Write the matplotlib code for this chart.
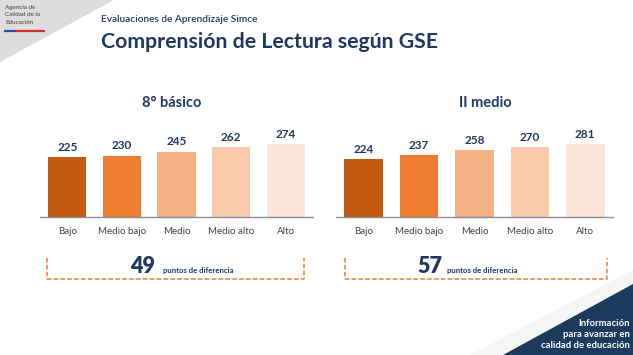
import matplotlib
matplotlib.use('Agg')
import matplotlib.pyplot as plt
from matplotlib.patches import Polygon

# Data
categorias = ['Bajo', 'Medio bajo', 'Medio', 'Medio alto', 'Alto']
puntajes_8b = [225, 230, 245, 262, 274]
puntajes_2m = [224, 237, 258, 270, 281]
niveles = ['8° básico', 'II medio']
colores = ['#C55A11', '#ED7D31', '#F4B183', '#F8CBAD', '#FBE5D6']

NAVY = '#1F3864'
W, H = 633, 355

plt.rcParams['font.family'] = ['Lato', 'DejaVu Sans']

fig = plt.figure(figsize=(W / 100, H / 100), dpi=100, facecolor='white')


def box(x0, y0, x1, y1):
    # pixel box (top-left origin) -> figure fraction rect
    return [x0 / W, 1 - y1 / H, (x1 - x0) / W, (y1 - y0) / H]


# Background layer for decorations
bg = fig.add_axes([0, 0, 1, 1], zorder=0)
bg.set_xlim(0, W)
bg.set_ylim(H, 0)
bg.axis('off')
bg.add_patch(Polygon([(0, 0), (114, 0), (0, 62)], closed=True, color='#dddddd', lw=0))
bg.add_patch(Polygon([(W, 270), (W, H), (470, H)], closed=True, color='#f5f5f5', lw=0))
bg.add_patch(Polygon([(W, 284), (W, H), (503, H)], closed=True, color='#1B3A5E', lw=0))

# logo
for i, t in enumerate(['Agencia de', 'Calidad de la', 'Educación']):
    bg.text(5, 8 + i * 7, t, fontsize=4.5, color='#404040', va='center', ha='left')
bg.plot([4, 15], [31, 31], color='#2453a6', lw=1.6, solid_capstyle='butt')
bg.plot([15, 45], [31, 31], color='#d9262c', lw=1.6, solid_capstyle='butt')

# titles
bg.text(101, 19, 'Evaluaciones de Aprendizaje Simce', fontsize=7.3, color=NAVY,
        fontweight='semibold', va='center', ha='left')
bg.text(101, 42, 'Comprensión de Lectura según GSE', fontsize=15.3, color=NAVY,
        fontweight='bold', va='center', ha='left')

# footer text
for i, t in enumerate(['Información', 'para avanzar en', 'calidad de educación']):
    bg.text(630, 323 + i * 11.5, t, fontsize=6.8, color='white', fontweight='bold',
            va='center', ha='right')

# charts
ejes = [(40, 313, 137), (336, 613, 139)]
centros_titulo = [172, 485]
cajas = [(47, 304), (345, 607)]
textos_num = [(130, 163), (417, 447)]

for nivel, valores, (xa, xb, ytop), ct, (bx0, bx1), (nx, tx) in zip(
        niveles, [puntajes_8b, puntajes_2m], ejes, centros_titulo, cajas, textos_num):
    ax = fig.add_axes(box(xa, ytop, xb, 217), zorder=2)
    ax.patch.set_alpha(0)
    barras = ax.bar(range(len(categorias)), valores, width=0.7, color=colores)
    ax.bar_label(barras, labels=[str(v) for v in valores], padding=3,
                 fontsize=8.5, fontweight='bold', color=NAVY)
    ax.set_xlim(-0.5, len(categorias) - 0.5)
    ax.set_ylim(0, 300)
    ax.set_xticks(range(len(categorias)))
    ax.set_xticklabels(categorias, fontsize=7, color='#404040')
    ax.tick_params(axis='x', length=0, pad=7)
    ax.set_yticks([])
    for s in ['top', 'left', 'right']:
        ax.spines[s].set_visible(False)
    ax.spines['bottom'].set_color('#8c8c9c')
    ax.spines['bottom'].set_linewidth(1)

    bg.text(ct, 103, nivel, fontsize=10.5, fontweight='bold', color=NAVY,
            ha='center', va='center')

    # dashed bracket with difference
    bg.plot([bx0, bx0, bx1, bx1], [258, 279, 279, 258], color='#ED7D31',
            lw=1.1, ls=(0, (3, 1.5)))
    diferencia = max(valores) - min(valores)
    bg.text(nx, 273, str(diferencia), fontsize=15.5, fontweight='heavy', color=NAVY,
            ha='left', va='baseline')
    bg.text(tx, 273, 'puntos de diferencia', fontsize=5.6, fontweight='bold',
            color=NAVY, ha='left', va='baseline')

fig.savefig('out.png', dpi=100, facecolor='white')
